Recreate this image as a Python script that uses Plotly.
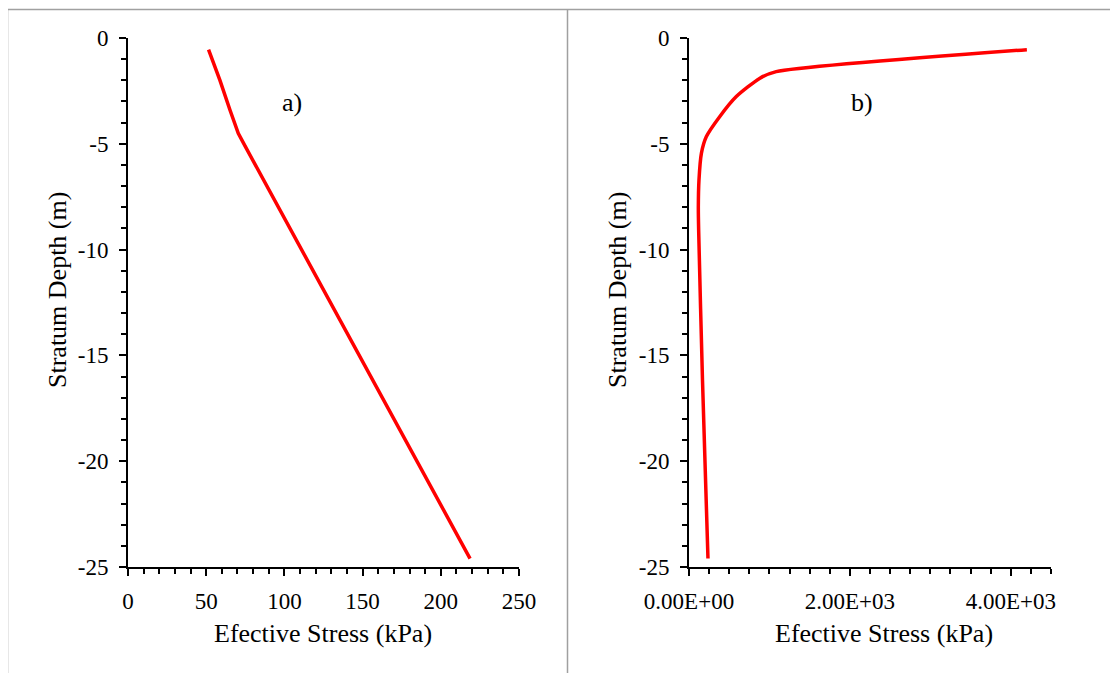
import plotly.graph_objects as go

# Panel a) data
depth_a = [-0.55, -2.0, -3.4, -4.5, -5.1, -24.6]
stress_a = [51.5, 58.8, 65.2, 70.5, 74.8, 218.7]

# Panel b) data
depth_b = [-0.55, -1.59, -1.91, -2.77, -3.72, -4.66, -5.45, -6.71, -8.0, -9.07, -16.2, -24.6]
stress_b = [4200, 1084, 877, 588, 381, 216, 154, 124, 116, 120, 168, 236]

depth_ticks = [0, -5, -10, -15, -20, -25]
depth_tick_text = ["0", "-5", "-10", "-15", "-20", "-25"]
stress_b_ticks = [0, 2000, 4000]
stress_b_tick_text = ["0.00E+00", "2.00E+03", "4.00E+03"]

x_title = "Efective Stress (kPa)"
y_title = "Stratum Depth (m)"
panel_labels = ["a)", "b)"]

W, H = 1118, 673
OFF = 8  # page body margin
FONT = "Liberation Serif, Times New Roman, serif"

fig = go.Figure()
fig.add_trace(go.Scatter(x=stress_a, y=depth_a, mode="lines",
                         line=dict(color="#ff0000", width=3.5), xaxis="x", yaxis="y",
                         showlegend=False))
fig.add_trace(go.Scatter(x=stress_b, y=depth_b, mode="lines",
                         line=dict(color="#ff0000", width=3.5, shape="spline", smoothing=0.6),
                         xaxis="x2", yaxis="y2", showlegend=False))

def px(x):
    return (x - OFF) / W

def py(y):
    return 1 - (y - OFF) / H

ydom = [py(567), py(38)]
axis_common = dict(showline=True, linecolor="black", linewidth=2, ticks="outside",
                   ticklen=7, tickwidth=2, tickcolor="black", showgrid=False,
                   zeroline=False, automargin=False,
                   tickfont=dict(family=FONT, size=23, color="black"))
minor_common = dict(ticks="outside", ticklen=5, tickwidth=2, tickcolor="black")

fig.update_layout(
    width=W, height=H, margin=dict(l=0, r=0, t=0, b=0),
    paper_bgcolor="white", plot_bgcolor="white",
    font=dict(family=FONT, color="black"),
    xaxis=dict(domain=[px(128), px(519)], range=[0, 250], dtick=50, anchor="y",
               minor=dict(dtick=10, **minor_common),
               ticklabelstandoff=5, **axis_common),
    yaxis=dict(domain=ydom, range=[-25, 0], tickvals=depth_ticks, ticktext=depth_tick_text,
               anchor="x", minor=dict(dtick=1, **minor_common),
               ticklabelstandoff=6, **axis_common),
    xaxis2=dict(domain=[px(689), px(1051)], range=[0, 4500], tickvals=stress_b_ticks,
                ticktext=stress_b_tick_text, anchor="y2",
                minor=dict(dtick=250, **minor_common),
                ticklabelstandoff=5, **axis_common),
    yaxis2=dict(domain=ydom, range=[-25, 0], tickvals=depth_ticks, ticktext=depth_tick_text,
                anchor="x2", minor=dict(dtick=1, **minor_common),
                ticklabelstandoff=6, **axis_common),
)

ann = []
for cx in [323, 884]:
    ann.append(dict(text=x_title, x=px(cx), y=py(633), xref="paper", yref="paper",
                    showarrow=False, font=dict(family=FONT, size=26, color="black"),
                    xanchor="center", yanchor="middle"))
for cx in [57, 617]:
    ann.append(dict(text=y_title, x=px(cx), y=py(290), xref="paper", yref="paper",
                    showarrow=False, textangle=-90, font=dict(family=FONT, size=26, color="black"),
                    xanchor="center", yanchor="middle"))
for lbl, cx in zip(panel_labels, [292, 862]):
    ann.append(dict(text=lbl, x=px(cx), y=py(103), xref="paper", yref="paper",
                    showarrow=False, font=dict(family=FONT, size=26, color="black"),
                    xanchor="center", yanchor="middle"))
fig.update_layout(annotations=ann)

border = dict(color="#a0a0a0", width=1.5)
fig.update_layout(shapes=[
    dict(type="line", xref="paper", yref="paper", x0=px(7.5), x1=1, y0=py(9.5), y1=py(9.5), line=border),
    dict(type="line", xref="paper", yref="paper", x0=px(7.5), x1=px(7.5), y0=0, y1=py(9.5), line=border),
    dict(type="line", xref="paper", yref="paper", x0=px(567.5), x1=px(567.5), y0=0, y1=py(9.5), line=border),
])

fig.write_html("out.html")
